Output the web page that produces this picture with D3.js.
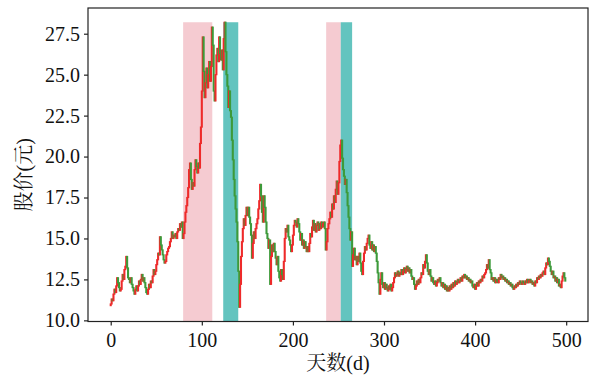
<!DOCTYPE html>
<html><head><meta charset="utf-8">
<script src="https://cdn.jsdelivr.net/npm/d3@7"></script>
<style>
html,body{margin:0;padding:0;background:#fff;}
svg{display:block;}
</style></head>
<body>
<svg id="chart" width="598" height="376"></svg>
<script>
// Daily closing prices, day 0..499
const closes = [
 11.0, 11.3, 11.2, 11.6, 11.9, 11.7, 12.1, 12.6, 12.3, 12.0,
 11.8, 11.9, 12.4, 12.8, 12.5, 13.1, 13.3, 13.9, 13.2, 12.6,
 12.5, 12.3, 12.6, 12.2, 12.0, 11.8, 11.6, 11.9, 12.1, 11.8,
 12.1, 12.4, 12.2, 12.5, 12.8, 12.4, 12.6, 12.3, 12.0, 11.7,
 11.6, 11.9, 12.2, 12.0, 12.4, 12.3, 12.7, 13.1, 12.8, 13.0,
 13.4, 13.7, 14.1, 14.0, 15.1, 14.6, 14.3, 14.0, 13.7, 13.5,
 13.6, 14.0, 14.2, 14.4, 14.5, 14.8, 15.0, 15.4, 15.0, 15.2,
 15.1, 15.3, 15.0, 15.4, 15.6, 15.5, 15.9, 15.7, 16.0, 15.0,
 15.3, 16.0, 16.6, 17.0, 17.5, 18.1, 19.2, 19.6, 18.6, 18.0,
 18.4, 18.2, 19.2, 19.8, 19.4, 19.0, 19.6, 19.3, 20.8, 21.8,
 24.0, 27.3, 25.2, 23.6, 24.5, 25.4, 24.2, 25.0, 25.8, 24.6,
 25.5, 27.9, 26.8, 24.0, 23.4, 25.0, 26.2, 26.6, 25.8, 27.3,
 26.3, 25.9, 26.5, 25.3, 27.2, 28.2, 26.4, 25.0, 24.3, 23.0,
 24.0, 22.8, 22.4, 21.0, 19.8, 18.6, 17.6, 16.8, 16.0, 14.8,
 13.0, 10.8, 12.2, 13.9, 14.8, 15.6, 16.2, 15.8, 16.4, 16.9,
 16.4, 16.9, 16.3, 15.9, 15.2, 13.8, 14.7, 15.4, 15.0, 15.6,
 15.9, 16.2, 16.8, 17.3, 18.3, 17.6, 16.6, 16.0, 17.6, 16.9,
 16.0, 15.3, 15.0, 14.4, 14.9, 12.2, 13.9, 14.6, 14.2, 14.7,
 14.2, 13.8, 13.4, 13.9, 13.0, 12.6, 12.4, 13.1, 12.8, 12.5,
 13.6, 15.0, 15.6, 15.4, 15.8, 15.1, 14.9, 14.6, 14.2, 14.6,
 15.2, 15.8, 16.1, 16.0, 15.7, 16.2, 15.9, 15.4, 14.9, 15.3,
 14.6, 14.9, 14.4, 14.8, 14.5, 14.2, 14.5, 14.2, 14.7, 15.3,
 15.1, 15.7, 16.1, 15.5, 15.9, 15.4, 15.8, 16.0, 15.5, 15.9,
 15.6, 16.0, 15.7, 15.9, 16.0, 15.6, 14.3, 14.8, 15.6, 15.9,
 16.2, 16.6, 16.3, 17.1, 16.8, 17.6, 17.2, 18.0, 18.5, 17.7,
 18.4, 19.7, 20.7, 21.0, 19.9, 19.2, 18.8, 18.3, 18.6, 17.8,
 17.0, 16.3, 15.6, 14.9, 15.4, 13.3, 14.0, 14.4, 13.7, 13.9,
 13.4, 13.9, 13.6, 14.1, 13.5, 13.0, 12.8, 13.6, 14.1, 14.5,
 14.3, 14.7, 15.0, 15.2, 14.6, 14.4, 14.8, 14.3, 14.6, 14.2,
 14.5, 14.1, 13.6, 12.9, 12.3, 11.6, 12.5, 12.9, 12.2, 12.0,
 12.3, 11.9, 12.2, 12.0, 11.8, 12.1, 11.9, 12.2, 11.8, 12.0,
 12.3, 12.6, 12.9, 12.7, 12.8, 13.0, 12.7, 12.9, 12.8, 13.1,
 12.8, 13.0, 13.2, 12.9, 13.1, 13.3, 13.0, 13.2, 12.9, 13.1,
 12.7, 12.5, 12.6, 12.2, 11.9, 12.1, 12.4, 12.2, 12.5, 12.3,
 12.6, 12.9, 12.8, 13.4, 13.2, 13.6, 14.0, 13.5, 13.0, 12.8,
 13.1, 12.7, 12.4, 12.6, 12.3, 12.2, 12.4, 12.1, 12.3, 12.5,
 12.4, 12.6, 12.3, 12.1, 12.3, 12.0, 12.2, 11.9, 12.1, 11.8,
 12.0, 11.8, 12.1, 11.9, 12.2, 12.0, 12.3, 12.1, 12.4, 12.2,
 12.3, 12.5, 12.3, 12.4, 12.6, 12.4, 12.7, 12.6, 12.8, 12.6,
 12.7, 12.5, 12.6, 12.4, 12.5, 12.3, 12.4, 12.1, 12.0, 12.2,
 11.9, 12.1, 12.3, 12.1, 12.4, 12.3, 12.5, 12.4, 12.7, 12.6,
 12.8, 12.9, 13.1, 13.4, 13.2, 13.7, 13.1, 12.9, 12.5, 12.6,
 12.4, 12.6, 12.3, 12.5, 12.4, 12.3, 12.6, 12.5, 12.8, 12.6,
 12.7, 12.5, 12.6, 12.4, 12.5, 12.3, 12.4, 12.2, 12.3, 12.1,
 12.2, 12.0, 11.9, 12.1, 12.0, 12.2, 12.1, 12.3, 12.2, 12.4,
 12.3, 12.2, 12.4, 12.3, 12.2, 12.4, 12.3, 12.5, 12.3, 12.4,
 12.5, 12.3, 12.4, 12.2, 12.3, 12.1, 12.4, 12.3, 12.6, 12.5,
 12.7, 12.6, 12.8, 12.7, 12.9, 13.0, 12.8, 13.2, 13.5, 13.4,
 13.8, 13.6, 13.3, 13.0, 12.8, 13.0, 12.6, 12.7, 12.4, 12.6,
 12.3, 12.5, 12.1, 12.2, 12.0, 12.4, 12.7, 12.9, 12.6, 12.4
];
const firstOpen = 10.9;
// Highlighted periods [startDay, endDay]
const riseRegions = [[79.5, 111.5], [236.5, 252.5]];
const fallRegions = [[123.5, 140.0], [252.5, 265.0]];
const xTicks = [0, 100, 200, 300, 400, 500];
const yTicks = [10.0, 12.5, 15.0, 17.5, 20.0, 22.5, 25.0, 27.5];
// axis titles split into [text, isCJK] pieces
const xLabelParts = [["天数", true], ["(d)", false]];
const yLabelParts = [["股价", true], ["(", false], ["元", true], [")", false]];

const data = closes.map((c, i) => {
  const o = i === 0 ? firstOpen : closes[i - 1];
  return {day: i, open: o, close: c, high: Math.max(o, c), low: Math.min(o, c)};
});

const svg = d3.select("#chart");
const L = 88, R = 588, T = 8, B = 321.5;

const n = closes.length;
const xPad = (n - 1) * 0.05;
const x = d3.scaleLinear().domain([-xPad, (n - 1) + xPad]).range([L, R]);
const yMin = d3.min(data, d => d.low), yMax = d3.max(data, d => d.high);
const yPad = (yMax - yMin) * 0.05;
const y = d3.scaleLinear().domain([yMin - yPad, yMax + yPad]).range([B, T]);

const latin = "Liberation Serif";
const cjk = "Noto Serif CJK SC";

// shaded regions
svg.append("g").selectAll("rect").data(riseRegions).join("rect")
  .attr("x", d => x(d[0])).attr("width", d => x(d[1]) - x(d[0]))
  .attr("y", y(yMax)).attr("height", B - y(yMax))
  .attr("fill", "#f5cbd1");
svg.append("g").selectAll("rect").data(fallRegions).join("rect")
  .attr("x", d => x(d[0])).attr("width", d => x(d[1]) - x(d[0]))
  .attr("y", y(yMax)).attr("height", B - y(yMax))
  .attr("fill", "#63c4bf");

// candles
const up = "#ee2a2a", down = "#3d9a3a";
svg.append("g").selectAll("line").data(data).join("line")
  .attr("x1", d => x(d.day)).attr("x2", d => x(d.day))
  .attr("y1", d => y(d.high) - 0.6).attr("y2", d => y(d.low) + 0.6)
  .attr("stroke", d => d.close >= d.open ? up : down)
  .attr("stroke-width", 2.1);

// frame
svg.append("rect").attr("x", L).attr("y", T).attr("width", R - L).attr("height", B - T)
  .attr("fill", "none").attr("stroke", "#222").attr("stroke-width", 1.2);

// axes
const xAxis = d3.axisBottom(x).tickValues(xTicks).tickSize(4).tickPadding(7).tickFormat(d3.format("d"));
const yAxis = d3.axisLeft(y).tickValues(yTicks).tickSize(4).tickPadding(4).tickFormat(d3.format(".1f"));
const gx = svg.append("g").attr("transform", `translate(0,${B})`).call(xAxis);
const gy = svg.append("g").attr("transform", `translate(${L},0)`).call(yAxis);
[gx, gy].forEach(a => {
  a.attr("font-family", latin).attr("font-size", 20);
  a.select(".domain").remove();
  a.selectAll(".tick line").attr("stroke", "#222").attr("stroke-width", 1.2);
  a.selectAll(".tick text").attr("fill", "#111");
});

function title(sel, parts) {
  sel.attr("font-size", 20).attr("fill", "#111").attr("text-anchor", "middle");
  sel.selectAll("tspan").data(parts).join("tspan")
    .attr("font-family", d => d[1] ? cjk : latin)
    .text(d => d[0]);
}
title(svg.append("text").attr("x", (L + R) / 2).attr("y", 370), xLabelParts);
title(svg.append("text").attr("transform", `translate(31,${(T + B) / 2 + 10}) rotate(-90)`), yLabelParts);
</script>
</body></html>
